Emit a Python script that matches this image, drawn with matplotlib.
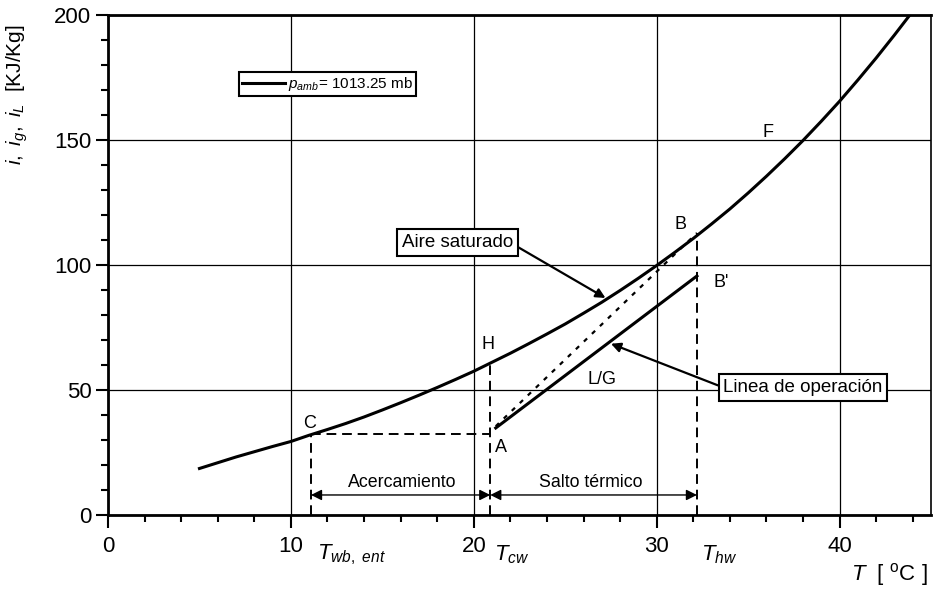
import numpy as np
import matplotlib
matplotlib.use('Agg')
import matplotlib.pyplot as plt
from matplotlib.lines import Line2D
from matplotlib.ticker import MultipleLocator

plt.rcParams['font.family'] = ['Liberation Sans', 'DejaVu Sans']
plt.rcParams['mathtext.fontset'] = 'custom'
plt.rcParams['mathtext.rm'] = 'Liberation Sans'
plt.rcParams['mathtext.it'] = 'Liberation Sans:italic'

# saturated air enthalpy
t_sat = [5, 6, 7, 8, 9, 10, 11, 12, 13, 14, 15, 16, 17, 18, 19, 20, 21, 22, 23, 24, 25,
         26, 27, 28, 29, 30, 31, 32, 33, 34, 35, 36, 37, 38, 39, 40, 41, 42, 43, 44, 45]
i_sat = [18.6, 20.9, 23.2, 25.3, 27.4, 29.4, 31.9, 34.2, 36.6, 39.2, 42.0, 44.9, 47.9,
         51.0, 54.2, 57.5, 61.1, 64.7, 68.5, 72.4, 76.4, 80.7, 85.1, 89.8, 94.7, 99.8,
         105.1, 110.6, 116.4, 122.4, 128.8, 135.5, 142.5, 149.8, 157.5, 165.5, 174.0,
         182.8, 192.0, 201.5, 211.5]

# operating line A -> B' and ideal line A -> B
t_op = [21.2, 32.2]
i_op = [34.8, 95.6]
t_dot = [21.2, 32.2]
i_dot = [35.5, 112.8]

t_wb = 11.1
t_cw = 20.9
t_hw = 32.2
i_c = 32.2
i_h = 61.0
i_b = 112.8

fig = plt.figure(figsize=(9.36, 5.97), dpi=100)
ax = fig.add_axes([0.1154, 0.1374, 0.8793, 0.8375])

ax.plot(t_sat, i_sat, color='black', lw=2.2)
ax.plot(t_op, i_op, color='black', lw=2.2)
ax.plot(t_dot, i_dot, color='black', lw=1.6, ls=(0, (2, 3)))

dash = (0, (5, 3))
ax.plot([t_wb, t_wb], [0, i_c], color='black', lw=1.4, ls=dash)
ax.plot([t_wb, t_cw], [i_c, i_c], color='black', lw=1.4, ls=dash)
ax.plot([t_cw, t_cw], [0, i_h], color='black', lw=1.4, ls=dash)
ax.plot([t_hw, t_hw], [0, i_b], color='black', lw=1.4, ls=dash)

# range arrows
arrow_y = 8
for x0, x1 in [(t_wb, t_cw), (t_cw, t_hw)]:
    ax.annotate('', xy=(x0, arrow_y), xytext=(x1, arrow_y),
                arrowprops=dict(arrowstyle='<|-|>', color='black', lw=1.0,
                                mutation_scale=16, shrinkA=0, shrinkB=0))
ax.text(16.1, 13, 'Acercamiento', ha='center', va='center', fontsize=12.8)
ax.text(26.4, 13, 'Salto térmico', ha='center', va='center', fontsize=12.8)

# point labels
for x, y, s in [(11.0, 36.5, 'C'), (20.8, 68, 'H'), (21.5, 27, 'A'), (31.3, 116, 'B'),
                (33.5, 93, "B'"), (36.1, 153, 'F'), (27.0, 54, 'L/G')]:
    ax.text(x, y, s, ha='center', va='center', fontsize=13)

box = dict(boxstyle='square,pad=0.25', fc='white', ec='black', lw=1.5)
ax.annotate('Aire saturado', xy=(27.2, 86.8), xytext=(19.1, 109), ha='center', va='center',
            fontsize=13.5, bbox=box,
            arrowprops=dict(arrowstyle='-|>', color='black', lw=1.6, mutation_scale=14,
                            shrinkA=0, shrinkB=0, relpos=(1, 0.4)))
ax.annotate('Linea de operación', xy=(27.5, 68.5), xytext=(38.0, 51), ha='center', va='center',
            fontsize=13.5, bbox=box,
            arrowprops=dict(arrowstyle='-|>', color='black', lw=1.6, mutation_scale=14,
                            shrinkA=0, shrinkB=0, relpos=(0, 0.5)))

leg = ax.legend(handles=[Line2D([], [], color='black', lw=2.2)],
                labels=[r'$p_{amb}$= 1013.25 mb'], loc='center',
                bbox_to_anchor=(12.0, 172.4), bbox_transform=ax.transData,
                fontsize=11, fancybox=False, framealpha=1, edgecolor='black',
                handlelength=2.8, handletextpad=0.2, borderpad=0.2, borderaxespad=0)
leg.get_frame().set_linewidth(1.5)

# temperature labels under the axis
ax.text(t_wb + 0.3, -16, r'$T_{wb,\ ent}$', ha='left', va='center', fontsize=16, clip_on=False)
ax.text(t_cw + 0.2, -16, r'$T_{cw}$', ha='left', va='center', fontsize=16, clip_on=False)
ax.text(t_hw + 0.2, -16, r'$T_{hw}$', ha='left', va='center', fontsize=16, clip_on=False)
ax.text(44.8, -24, r'$T$  [ $^{\mathrm{o}}$C ]', ha='right', va='center', fontsize=16,
        clip_on=False)

ax.set_ylabel(r'$i,\ i_g,\ i_L$  [KJ/Kg]', fontsize=15)
ax.yaxis.set_label_coords(-0.095, 0.84)

ax.set_xlim(0, 45)
ax.set_ylim(0, 200)
ax.xaxis.set_major_locator(MultipleLocator(10))
ax.xaxis.set_minor_locator(MultipleLocator(2))
ax.yaxis.set_major_locator(MultipleLocator(50))
ax.yaxis.set_minor_locator(MultipleLocator(10))
ax.tick_params(which='major', length=9, width=1.5, labelsize=16, direction='out')
ax.tick_params(which='minor', length=5, width=1.5, direction='out')
ax.tick_params(axis='x', pad=6)
ax.tick_params(axis='y', pad=3)
ax.grid(True, which='major', color='black', lw=0.9)
for side in ['left', 'bottom', 'top']:
    ax.spines[side].set_linewidth(2)
ax.spines['right'].set_linewidth(1.2)

fig.savefig('out.png', dpi=100)
